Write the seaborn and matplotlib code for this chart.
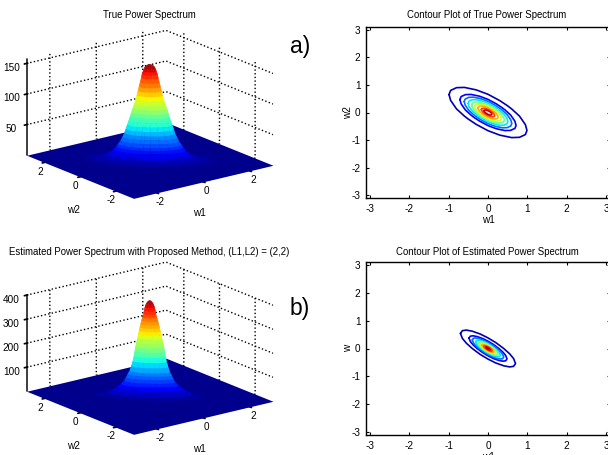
import numpy as np
import matplotlib
matplotlib.use("Agg")
import matplotlib.pyplot as plt
import seaborn as sns

sns.set_theme(style="white", font="Liberation Sans")
plt.rcParams.update({
    "font.family": ["Liberation Sans", "DejaVu Sans"],
    "font.size": 6.9,
    "axes.labelsize": 7.2,
    "axes.unicode_minus": False,
    "text.color": "black",
    "axes.labelcolor": "black",
    "xtick.color": "black",
    "ytick.color": "black",
    "grid.color": "black",
    "grid.linestyle": ":",
    "grid.linewidth": 1.0,
})

W, H = 608, 455

# Outer contour of each spectrum (w1, w2)
outline_a_w1 = [-.99, -.95, -.80, -.60, -.30, 0, .30, .50, .60, .80, .95, .99, .95, .80, .60, .30, 0, -.30, -.50, -.60, -.80, -.95, -.99]
outline_a_w2 = [.65, .80, .90, .91, .82, .66, .43, .24, .13, -.13, -.44, -.65, -.80, -.90, -.91, -.82, -.66, -.43, -.24, -.13, .13, .44, .65]
outline_b_w1 = [-.70, -.65, -.55, -.40, -.20, 0, .20, .40, .55, .65, .70, .65, .55, .40, .20, 0, -.20, -.40, -.55, -.65, -.70]
outline_b_w2 = [.54, .64, .66, .62, .52, .38, .21, 0, -.19, -.36, -.54, -.64, -.66, -.62, -.52, -.38, -.21, 0, .19, .36, .54]

# Contour sizes, as a fraction of the outer contour
rings_a = [1, .72, .61, .51, .42, .34, .26, .17, .10]
rings_b = [1, .69, .57, .45, .36, .29, .22, .15, .08]
ring_colour_steps = [2, 7, 14, 22, 30, 38, 46, 54, 60]

# Height of the peak against its size relative to the outer contour
height_a = [157, 156, 154, 150, 145, 140, 134, 127, 120, 113, 106, 99, 92, 85, 78, 72, 65, 58, 51, 44, 38, 32, 26, 22, 17, 13, 10, 8, 6, 4.5, 3, 2, 1, 0]
size_a = [0, .06, .12, .16, .19, .22, .24, .27, .30, .33, .36, .39, .43, .47, .51, .54, .58, .62, .66, .70, .75, .80, .87, .92, .99, 1.06, 1.13, 1.2, 1.28, 1.36, 1.5, 1.65, 1.8, 2.0]
height_b = [400, 397, 392, 383, 370, 355, 341, 327, 313, 299, 285, 271, 257, 240, 222, 205, 187, 166, 145, 124, 103, 90, 76, 62, 48, 34, 23, 12, 6, 3, 0]
size_b = [0, .05, .10, .15, .19, .22, .24, .28, .32, .35, .38, .41, .44, .47, .51, .54, .57, .60, .64, .70, .76, .83, .89, .96, 1.08, 1.25, 1.42, 1.63, 1.85, 2.05, 2.3]

floor_edges = [-3, 3]
surface_ticks = [-2, 0, 2]
contour_ticks = [-3, -2, -1, 0, 1, 2, 3]
zticks_a = [50, 100, 150]
zticks_b = [100, 200, 300, 400]

jet = np.array(sns.mpl_palette("jet", 64))


def surface_panel(cy, title, title_y, label_y, heights, sizes, out_w1, out_w2, zticks):
    P = 280
    ax = fig.add_axes([(146 - P / 2) / W, 1 - (cy + P / 2) / H, P / W, P / H], projection="3d",
                      proj_type="ortho", computed_zorder=False)
    ax.view_init(elev=18, azim=-127.5)
    ax.set_box_aspect((1, 1, 0.575), zoom=0.93)
    ax.set_xlim(-3, 3, view_margin=0)
    ax.set_ylim(-3, 3, view_margin=0)
    ax.set_zlim(0, heights[0], view_margin=0)
    ax.patch.set_alpha(0)

    fx, fy = np.meshgrid(floor_edges, floor_edges)
    ax.plot_surface(fx, fy, np.zeros_like(fx), color=jet[0], shade=False, linewidth=0, zorder=1)

    heights = np.array(heights, dtype=float)
    sizes = np.array(sizes)
    X = np.outer(sizes, out_w1)
    Y = np.outer(sizes, out_w2)
    Z = np.outer(heights, np.ones(len(out_w1)))
    band = (heights[:-1] + heights[1:]) / 2 / heights[0]
    idx = (band * 63).round().astype(int)
    colors = np.ones(Z.shape + (3,))
    colors[:-1] = jet[idx][:, None, :]
    ax.plot_surface(X, Y, Z, facecolors=colors, rstride=1, cstride=1, shade=False,
                    linewidth=0, antialiased=True, zorder=2)

    for axis in (ax.xaxis, ax.yaxis, ax.zaxis):
        axis.set_pane_color((1, 1, 1, 0))
        axis.pane.set_edgecolor((1, 1, 1, 0))
    ax.xaxis.line.set_color((0, 0, 0, 0))
    ax.yaxis.line.set_color((0, 0, 0, 0))
    ax.set_xticks(surface_ticks)
    ax.set_yticks(surface_ticks)
    ax.set_zticks(zticks)
    ax.tick_params(labelsize=7.2, pad=-4.5)
    ax.tick_params(axis="z", pad=-1.5)
    # axis names sit off the axis midpoints in the original, so place them directly
    fig.text(199 / W, 1 - label_y / H, "w1", ha="center", va="center", fontsize=7.2)
    fig.text(73 / W, 1 - (label_y - 3) / H, "w2", ha="center", va="center", fontsize=7.2)
    fig.text(149 / W, 1 - title_y / H, title, ha="center", va="center", fontsize=6.9)


def contour_panel(top, bottom, title, title_y, rings, out_w1, out_w2, ylabel):
    ax = fig.add_axes([366 / W, 1 - bottom / H, 244 / W, (bottom - top) / H])
    for r, step in zip(rings, ring_colour_steps):
        sns.lineplot(x=r * np.array(out_w1), y=r * np.array(out_w2), color=jet[step], lw=1.2,
                     sort=False, estimator=None, ax=ax)
    ax.set_xlim(-3.1, 3.1)
    ax.set_ylim(-3.1, 3.1)
    ax.set_xticks(contour_ticks)
    ax.set_yticks(contour_ticks)
    ax.tick_params(direction="in", length=2, width=0.8, top=True, right=True, bottom=True, left=True,
                   labelsize=7.2, pad=4)
    for s in ax.spines.values():
        s.set_visible(True)
        s.set_color("black")
        s.set_linewidth(1.0)
    ax.set_xlabel("w1", labelpad=1)
    ax.set_ylabel(ylabel, labelpad=-1)
    fig.text(487 / W, 1 - title_y / H, title, ha="center", va="center", fontsize=6.9)


fig = plt.figure(figsize=(W / 100, H / 100), dpi=100)

surface_panel(116, "True Power Spectrum", 15, 213, height_a, size_a, outline_a_w1, outline_a_w2, zticks_a)
surface_panel(352, "Estimated Power Spectrum with Proposed Method, (L1,L2) = (2,2)", 252, 449, height_b, size_b,
              outline_b_w1, outline_b_w2, zticks_b)
contour_panel(27, 198, "Contour Plot of True Power Spectrum", 15, rings_a, outline_a_w1, outline_a_w2, "w2")
contour_panel(262, 435, "Contour Plot of Estimated Power Spectrum", 252, rings_b, outline_b_w1, outline_b_w2, "w")

fig.text(300 / W, 1 - 46 / H, "a)", ha="center", va="center", fontsize=16.5)
fig.text(300 / W, 1 - 308 / H, "b)", ha="center", va="center", fontsize=16.5)

fig.savefig("out.png", dpi=100)
